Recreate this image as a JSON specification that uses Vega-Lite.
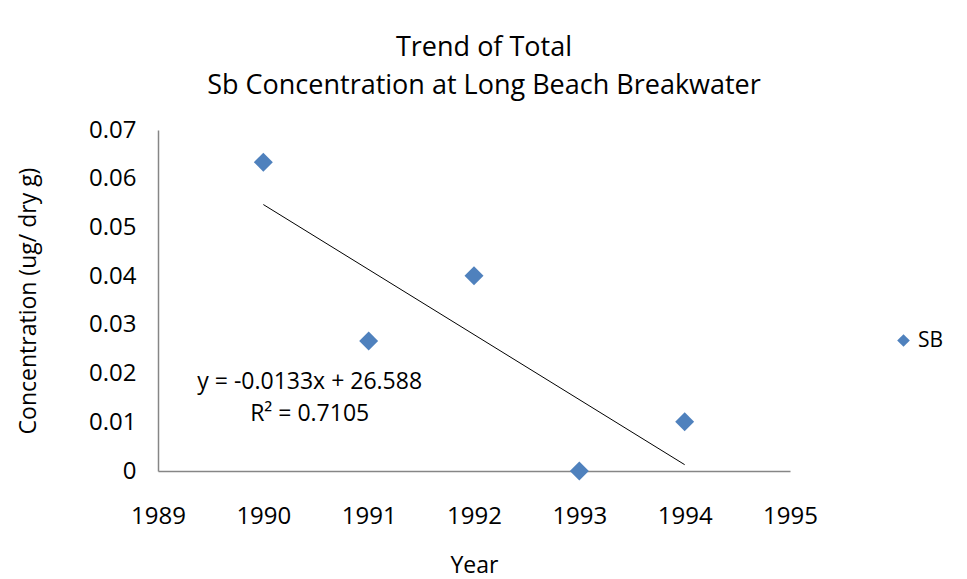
{
  "$schema": "https://vega.github.io/schema/vega-lite/v6.json",
  "autosize": "none",
  "width": 632,
  "height": 341,
  "padding": {"left": 158, "top": 130, "right": 177, "bottom": 108},
  "background": "white",
  "config": {"view": {"stroke": null}, "font": "Open Sans"},
  "title": {
    "text": ["Trend of Total", "Sb Concentration at Long Beach Breakwater"],
    "fontSize": 27,
    "fontWeight": "normal",
    "font": "Open Sans",
    "color": "#000000",
    "lineHeight": 38,
    "offset": 18,
    "dx": 10,
    "anchor": "middle"
  },
  "datasets": {
    "points": [
      {"year": 1990, "conc": 0.0634, "series": "SB"},
      {"year": 1991, "conc": 0.0267, "series": "SB"},
      {"year": 1992, "conc": 0.0401, "series": "SB"},
      {"year": 1993, "conc": 0.0, "series": "SB"},
      {"year": 1994, "conc": 0.0101, "series": "SB"}
    ],
    "trend": [
      {"year": 1990, "conc": 0.0547},
      {"year": 1994, "conc": 0.0013}
    ],
    "labels": [
      {"year": 1990.44, "conc": 0.0182, "text": "y = -0.0133x + 26.588"},
      {"year": 1990.44, "conc": 0.0117, "text": "R² = 0.7105"}
    ]
  },
  "layer": [
    {
      "data": {"name": "trend"},
      "mark": {"type": "line", "color": "#000000", "strokeWidth": 1},
      "encoding": {
        "x": {"field": "year", "type": "quantitative"},
        "y": {"field": "conc", "type": "quantitative"}
      }
    },
    {
      "data": {"name": "points"},
      "mark": {"type": "point", "shape": "diamond", "filled": true, "size": 360, "opacity": 1},
      "encoding": {
        "x": {
          "field": "year", "type": "quantitative",
          "scale": {"domain": [1989, 1995], "nice": false, "zero": false},
          "axis": {
            "title": "Year", "titleFontSize": 23, "titleFontWeight": "normal", "titleColor": "#000",
            "titlePadding": 26,
            "values": [1989, 1990, 1991, 1992, 1993, 1994, 1995], "format": "d",
            "labelFontSize": 24, "labelColor": "#000", "labelPadding": 33,
            "ticks": false, "grid": false, "domainColor": "#868686", "domainWidth": 1.5, "labelFlush": false
          }
        },
        "y": {
          "field": "conc", "type": "quantitative",
          "scale": {"domain": [0, 0.07], "nice": false},
          "axis": {
            "title": "Concentration (ug/ dry g)", "titleFontSize": 23, "titleFontWeight": "normal", "titleColor": "#000",
            "titlePadding": 48,
            "values": [0, 0.01, 0.02, 0.03, 0.04, 0.05, 0.06, 0.07],
            "labelExpr": "datum.value == 0 ? '0' : format(datum.value, '.2f')",
            "labelFontSize": 24, "labelColor": "#000", "labelPadding": 22,
            "ticks": false, "grid": false, "domainColor": "#868686", "domainWidth": 1.5
          }
        },
        "color": {
          "field": "series", "type": "nominal",
          "scale": {"range": ["#4F81BD"]},
          "legend": {
            "title": null, "orient": "none", "legendX": 735, "legendY": 200,
            "symbolType": "diamond", "symbolSize": 160, "labelFontSize": 21, "labelColor": "#000",
            "labelOffset": 4
          }
        }
      }
    },
    {
      "data": {"name": "labels"},
      "mark": {"type": "text", "fontSize": 23, "color": "#000", "align": "center", "baseline": "middle", "font": "Open Sans"},
      "encoding": {
        "x": {"field": "year", "type": "quantitative"},
        "y": {"field": "conc", "type": "quantitative"},
        "text": {"field": "text"}
      }
    }
  ]
}
